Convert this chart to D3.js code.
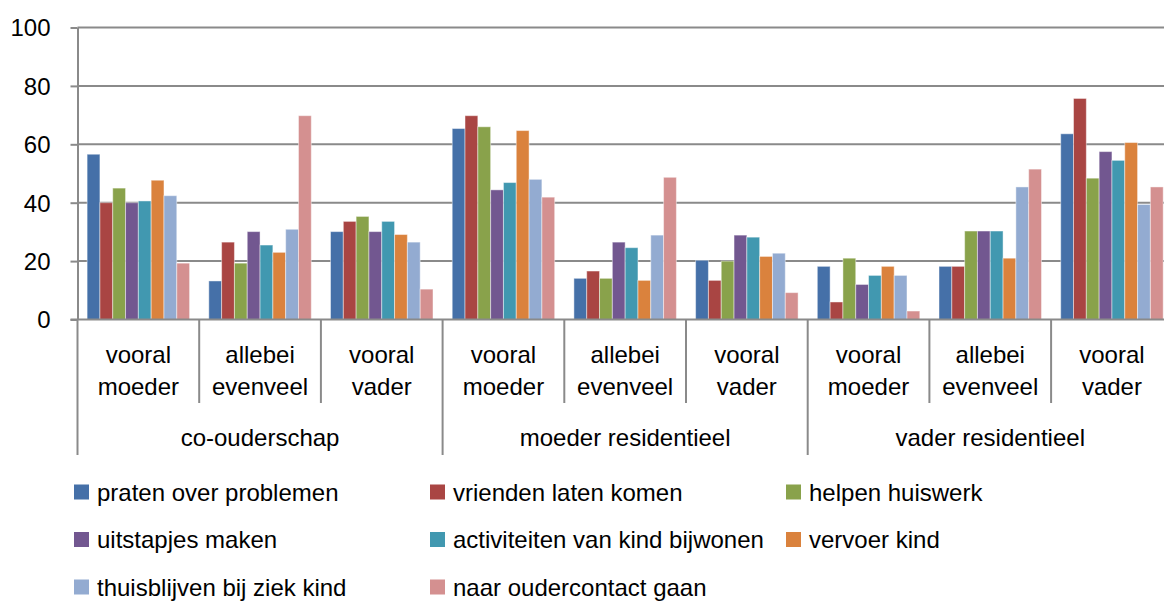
<!DOCTYPE html>
<html>
<head>
<meta charset="utf-8">
<script src="https://cdnjs.cloudflare.com/ajax/libs/d3/7.8.5/d3.min.js"></script>
<style>
	body { margin: 0; background: #fff; }
	svg { display: block; font-family: "Liberation Sans", Arial, sans-serif; }
	text { fill: #000; }
</style>
</head>
<body>
<div id="chartHolder"></div>
<script>
'use strict'
// categorieen (3 woonsituaties x 3 antwoorden)
var groups = ["co-ouderschap", "moeder residentieel", "vader residentieel"];
var answers = [["vooral", "moeder"], ["allebei", "evenveel"], ["vooral", "vader"]];
var yTicks = [0, 20, 40, 60, 80, 100];

var seriesNames = [
	"praten over problemen", "vrienden laten komen", "helpen huiswerk",
	"uitstapjes maken", "activiteiten van kind bijwonen", "vervoer kind",
	"thuisblijven bij ziek kind", "naar oudercontact gaan"
];
var seriesColors = ["#4570a8", "#a94543", "#89a24b", "#725790", "#4198b0", "#da823d", "#93abd1", "#d49090"];

// waarden per reeks, in volgorde van de 9 categorieen
var praten = [56.6, 13.2, 30.1, 65.4, 14.1, 20.3, 18.2, 18.2, 63.6];
var vrienden = [40.0, 26.5, 33.6, 69.8, 16.6, 13.4, 6.0, 18.2, 75.7];
var huiswerk = [45.0, 19.3, 35.3, 66.0, 14.1, 20.0, 21.0, 30.3, 48.4];
var uitstapjes = [40.0, 30.1, 30.1, 44.4, 26.5, 28.9, 12.0, 30.3, 57.5];
var activiteiten = [40.6, 25.5, 33.6, 46.9, 24.6, 28.2, 15.1, 30.3, 54.5];
var vervoer = [47.7, 23.0, 29.1, 64.7, 13.4, 21.6, 18.2, 21.0, 60.6];
var thuisblijven = [42.4, 30.9, 26.5, 48.0, 28.9, 22.7, 15.1, 45.4, 39.4];
var oudercontact = [19.3, 69.8, 10.4, 41.9, 48.7, 9.2, 2.9, 51.5, 45.4];
var seriesValues = [praten, vrienden, huiswerk, uitstapjes, activiteiten, vervoer, thuisblijven, oudercontact];

var w = 1164, h = 601;
var axisColor = "#8a8a8a";
var left = 77.5, yTop = 27.5, yBottom = 319.5;
var catStep = 121.7;

var svg = d3.select("#chartHolder").append("svg")
	.attr("width", w).attr("height", h);

var catIds = d3.range(groups.length * answers.length);
var x = d3.scaleBand()
	.domain(catIds)
	.range([left, left + catIds.length * catStep])
	.paddingInner(0).paddingOuter(0);
var xInner = d3.scaleBand()
	.domain(d3.range(seriesNames.length))
	.range([0, x.bandwidth()])
	.paddingInner(0).paddingOuter(0.75);
var y = d3.scaleLinear().domain([0, 100]).range([yBottom, yTop]);

// rasterlijnen
svg.append("g").attr("class", "grid")
	.selectAll("line")
	.data(yTicks.filter(function(t){ return t > 0; }))
	.enter().append("line")
	.attr("x1", left).attr("x2", w)
	.attr("y1", function(d){ return y(d); })
	.attr("y2", function(d){ return y(d); })
	.style("stroke", axisColor).style("stroke-width", 2);

// y-as
var yAxis = svg.append("g")
	.attr("transform", "translate(" + left + ",0)")
	.call(d3.axisLeft(y).tickValues(yTicks).tickSize(7).tickPadding(20).tickSizeOuter(0));
yAxis.select(".domain").style("stroke", axisColor).style("stroke-width", 2);
yAxis.selectAll(".tick line").style("stroke", axisColor).style("stroke-width", 2);
yAxis.selectAll(".tick text")
	.style("font-size", "24px").style("font-family", "Liberation Sans, Arial, sans-serif")
	.style("fill", "#000").attr("dy", "0.35em");

// staven
var bars = svg.append("g").attr("class", "bars");
seriesValues.forEach(function(vals, s){
	bars.selectAll("rect.s" + s)
		.data(vals)
		.enter().append("rect")
		.attr("class", "s" + s)
		.attr("x", function(d, i){ return x(i) + xInner(s); })
		.attr("width", xInner.bandwidth())
		.attr("y", function(d){ return y(d); })
		.attr("height", function(d){ return y(0) - y(d); })
		.style("fill", seriesColors[s])
		.style("stroke", "#fff").style("stroke-opacity", 0.45).style("stroke-width", 1);
});

// x-as en scheidingslijnen
svg.append("line")
	.attr("x1", left - 7).attr("x2", w)
	.attr("y1", yBottom).attr("y2", yBottom)
	.style("stroke", axisColor).style("stroke-width", 2);
var bounds = d3.range(catIds.length + 1);
svg.append("g").attr("class", "separators")
	.selectAll("line")
	.data(bounds)
	.enter().append("line")
	.attr("x1", function(d){ return left + d * x.step(); })
	.attr("x2", function(d){ return left + d * x.step(); })
	.attr("y1", yBottom)
	.attr("y2", function(d){ return d % answers.length === 0 ? 455 : 403; })
	.style("stroke", axisColor).style("stroke-width", 2);

// categorie labels
var catLabels = svg.append("g").style("font-size", "24px").attr("text-anchor", "middle");
catIds.forEach(function(c){
	var lines = answers[c % answers.length];
	lines.forEach(function(txt, j){
		catLabels.append("text")
			.attr("x", x(c) + x.bandwidth() / 2)
			.attr("y", 362.5 + j * 32.5)
			.text(txt);
	});
});
groups.forEach(function(g, i){
	catLabels.append("text")
		.attr("x", left + (i * answers.length + answers.length / 2) * x.step())
		.attr("y", 446)
		.text(g);
});

// legenda
var legendCols = [74, 430, 786];
var legend = svg.append("g").style("font-size", "24px");
seriesNames.forEach(function(name, i){
	var col = i % 3, row = Math.floor(i / 3);
	var lg = legend.append("g")
		.attr("transform", "translate(" + legendCols[col] + "," + (500.5 + row * 47.5) + ")");
	lg.append("rect")
		.attr("x", 0).attr("y", -16)
		.attr("width", 15).attr("height", 15)
		.style("fill", seriesColors[i]);
	lg.append("text")
		.attr("x", 23).attr("y", 0)
		.text(name);
});
</script>
</body>
</html>
